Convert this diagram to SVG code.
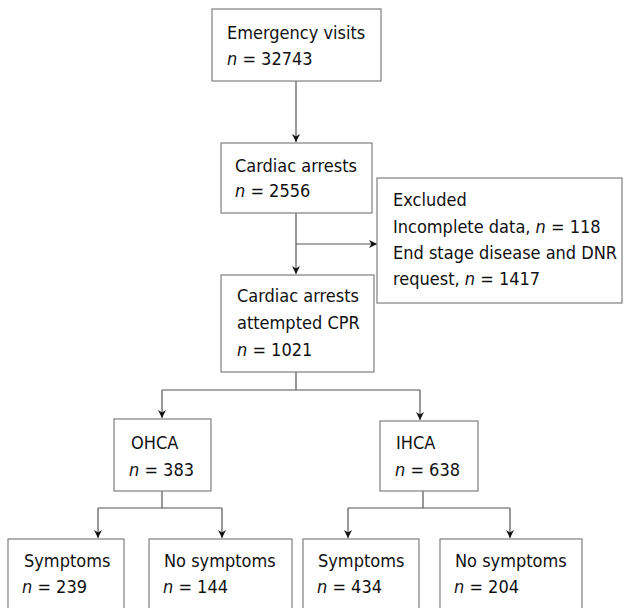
<svg xmlns="http://www.w3.org/2000/svg" width="627" height="608" viewBox="0 0 627 608">
<style>
.box{fill:#fff;stroke:#7f7f7f;stroke-width:1.2}
.t{font-family:"DejaVu Sans Condensed","DejaVu Sans",sans-serif;font-stretch:condensed;font-size:18px;fill:#111}
.i{font-style:italic}
.c{fill:none;stroke:#555;stroke-width:1.2}
</style>
<defs>
<marker id="a" viewBox="0 0 10 10" refX="10" refY="5" markerWidth="8" markerHeight="8" orient="auto" markerUnits="userSpaceOnUse">
<path d="M0,0 L10,5 L0,10 L3,5 z" fill="#111"/>
</marker>
</defs>
<rect width="627" height="608" fill="#fff"/>
<g id="connectors">
<path class="c" d="M296,81 V142" marker-end="url(#a)"/>
<path class="c" d="M296,213 V274" marker-end="url(#a)"/>
<path class="c" d="M296,244 H377" marker-end="url(#a)"/>
<path class="c" d="M296,372 V390 M162,390 H420"/>
<path class="c" d="M162,390 V418" marker-end="url(#a)"/>
<path class="c" d="M420,390 V420" marker-end="url(#a)"/>
<path class="c" d="M162,491 V508 M98,508 H222"/>
<path class="c" d="M98,508 V538" marker-end="url(#a)"/>
<path class="c" d="M222,508 V538" marker-end="url(#a)"/>
<path class="c" d="M423,491 V508 M348,508 H510"/>
<path class="c" d="M348,508 V538" marker-end="url(#a)"/>
<path class="c" d="M510,508 V538" marker-end="url(#a)"/>
</g>
<g id="emergency">
<rect class="box" x="212" y="9" width="169" height="72"/>
<text class="t" x="227" y="39">Emergency visits</text>
<text class="t" x="227" y="65"><tspan class="i">n</tspan> = 32743</text>
</g>
<g id="cardiac">
<rect class="box" x="221" y="143" width="151" height="70"/>
<text class="t" x="235" y="172">Cardiac arrests</text>
<text class="t" x="235" y="197"><tspan class="i">n</tspan> = 2556</text>
</g>
<g id="excluded">
<rect class="box" x="377" y="178" width="245" height="125"/>
<text class="t" x="393" y="206">Excluded</text>
<text class="t" x="393" y="233">Incomplete data, <tspan class="i">n</tspan> = 118</text>
<text class="t" x="393" y="259">End stage disease and DNR</text>
<text class="t" x="393" y="285">request, <tspan class="i">n</tspan> = 1417</text>
</g>
<g id="attempted">
<rect class="box" x="221" y="275" width="153" height="97"/>
<text class="t" x="237" y="302">Cardiac arrests</text>
<text class="t" x="237" y="329">attempted CPR</text>
<text class="t" x="237" y="356"><tspan class="i">n</tspan> = 1021</text>
</g>
<g id="ohca">
<rect class="box" x="114" y="419" width="97" height="72"/>
<text class="t" x="131" y="449">OHCA</text>
<text class="t" x="129" y="476"><tspan class="i">n</tspan> = 383</text>
</g>
<g id="ihca">
<rect class="box" x="380" y="421" width="98" height="70"/>
<text class="t" x="396" y="449">IHCA</text>
<text class="t" x="395" y="476"><tspan class="i">n</tspan> = 638</text>
</g>
<g id="ohca-symptoms">
<rect class="box" x="8" y="539" width="116" height="80"/>
<text class="t" x="24" y="567">Symptoms</text>
<text class="t" x="22" y="593"><tspan class="i">n</tspan> = 239</text>
</g>
<g id="ohca-nosymptoms">
<rect class="box" x="149" y="539" width="143" height="80"/>
<text class="t" x="164" y="567">No symptoms</text>
<text class="t" x="163" y="593"><tspan class="i">n</tspan> = 144</text>
</g>
<g id="ihca-symptoms">
<rect class="box" x="303" y="539" width="116" height="80"/>
<text class="t" x="318" y="567">Symptoms</text>
<text class="t" x="317" y="593"><tspan class="i">n</tspan> = 434</text>
</g>
<g id="ihca-nosymptoms">
<rect class="box" x="440" y="539" width="142" height="80"/>
<text class="t" x="455" y="567">No symptoms</text>
<text class="t" x="454" y="593"><tspan class="i">n</tspan> = 204</text>
</g>
</svg>
